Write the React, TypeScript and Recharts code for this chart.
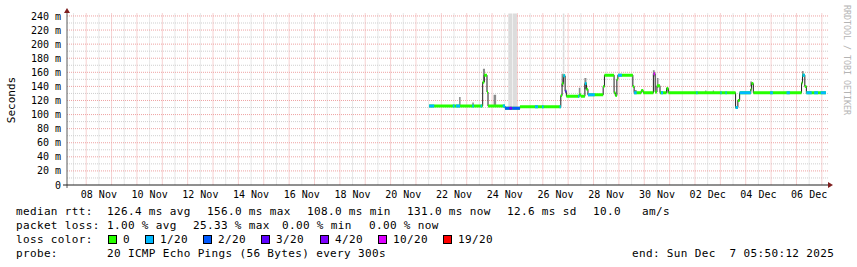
import React from 'react';
import { ComposedChart, Line, XAxis, YAxis, CartesianGrid, ReferenceArea } from 'recharts';

const FONT = '"DejaVu Sans Mono", monospace';

// time axis is "day of November" (1 Dec = 31), values in ms
const START = 7 + (5 * 60 + 50 + 12 / 60) / 1440; // Sun Nov 7 05:50:12 minus 30 days
const END = START + 30;

const LABEL_DAYS = [8, 10, 12, 14, 16, 18, 20, 22, 24, 26, 28, 30, 32, 34, 36];
const LABELS = ['08 Nov', '10 Nov', '12 Nov', '14 Nov', '16 Nov', '18 Nov', '20 Nov', '22 Nov', '24 Nov', '26 Nov', '28 Nov', '30 Nov', '02 Dec', '04 Dec', '06 Dec'];
const MAJOR_MS = [0, 20, 40, 60, 80, 100, 120, 140, 160, 180, 200, 220, 240];
const MINOR_MS = [10, 30, 50, 70, 90, 110, 130, 150, 170, 190, 210, 230];

// median rtt, step after: [day, ms]
const MEDIAN: [number, number][] = [
  [21.52, 112],
  [23.63, 146], [23.69, 156], [23.8, 132], [23.84, 112],
  [24.51, 109], [25.1, 111],
  [26.71, 127], [26.76, 144], [26.81, 155], [26.88, 133], [26.93, 126],
  [27.44, 128], [27.5, 126], [27.66, 144], [27.72, 136], [27.78, 128],
  [28.38, 140], [28.43, 156], [28.81, 131], [28.86, 127], [28.92, 150], [28.96, 156],
  [29.55, 140], [29.6, 131],
  [29.88, 134], [29.96, 131],
  [30.36, 158], [30.43, 132], [30.5, 141], [30.62, 131], [30.88, 137], [30.95, 131],
  [33.6, 110], [33.69, 120], [33.76, 131],
  [34.2, 136], [34.23, 144], [34.3, 131],
  [36.2, 145], [36.24, 156], [36.33, 140], [36.39, 131],
  [37.16, 131],
];

// periods with packet loss: [from, to, loss level index]
const LOSS: [number, number, number][] = [
  [21.52, 21.72, 1], [22.45, 22.52, 1], [22.58, 22.74, 1], [23.22, 23.28, 1], [23.55, 23.6, 1],
  [24.42, 24.51, 1], [24.51, 24.67, 2], [24.67, 24.8, 3], [24.72, 24.76, 4], [24.8, 25.1, 2],
  [25.69, 25.81, 1], [25.97, 26.03, 1], [26.66, 26.71, 1], [26.81, 26.88, 1], [26.88, 26.93, 3],
  [27.39, 27.44, 1], [27.66, 27.72, 1], [27.78, 28.05, 1], [28.96, 29.12, 1], [29.6, 29.7, 1],
  [30.36, 30.43, 5], [30.66, 30.74, 1], [32.05, 32.1, 1], [33.0, 33.05, 1], [33.2, 33.25, 1],
  [33.6, 33.69, 1], [33.76, 34.2, 1], [34.96, 35.07, 1], [35.61, 35.74, 1], [36.24, 36.33, 1],
  [36.39, 36.6, 1], [36.7, 36.85, 1], [36.95, 37.16, 1],
];

// smoke (ping spread): [from, to, low ms, high ms]
const SMOKE: [number, number, number, number][] = [
  [22.7, 22.76, 112, 125], [23.22, 23.28, 112, 117], [23.64, 23.72, 146, 165],
  [24.06, 24.16, 112, 128], [24.64, 24.8, 109, 250], [24.82, 24.98, 109, 250],
  [26.74, 26.81, 140, 158], [26.79, 26.85, 150, 250], [27.42, 27.48, 126, 138],
  [27.64, 27.72, 136, 152], [29.62, 29.7, 131, 135], [30.34, 30.41, 154, 163],
  [30.5, 30.56, 138, 152], [30.86, 30.92, 131, 138], [32.4, 32.45, 131, 134],
  [32.7, 32.75, 131, 134], [34.18, 34.25, 140, 147], [36.22, 36.28, 155, 162],
];

const RTT_STATS = ['median rtt:', '126.4 ms avg', '156.0 ms max', '108.0 ms min', '131.0 ms now', '12.6 ms sd', '10.0', 'am/s'];
const LOSS_STATS = ['packet loss:', '1.00 % avg', '25.33 % max', '0.00 % min', '0.00 % now'];
const LOSS_LEVELS = ['0', '1/20', '2/20', '3/20', '4/20', '10/20', '19/20'];
const LOSS_COLORS = ['#26ff00', '#00b8ff', '#0059ff', '#5e00ff', '#7e00ff', '#dd00ff', '#ff0000'];
const PROBE = ['probe:', '20 ICMP Echo Pings (56 Bytes) every 300s'];
const END_TEXT = 'end: Sun Dec  7 05:50:12 2025';

const medAt = (t: number) => {
  let v = MEDIAN[0][1];
  for (const [bt, bv] of MEDIAN) if (bt <= t + 1e-9) v = bv;
  return v;
};

const stepData = MEDIAN.map(([t, v]) => ({ t, v }));
const flatData = MEDIAN.slice(0, -1).flatMap(([t, v], i) => [
  { t, v },
  { t: MEDIAN[i + 1][0], v },
  { t: MEDIAN[i + 1][0], v: null as number | null },
]);
const lossData = (lvl: number) =>
  LOSS.filter((s) => s[2] === lvl).flatMap(([a, b]) => [
    { t: a, v: medAt(a) },
    { t: b, v: medAt(a) },
    { t: b, v: null as number | null },
  ]);

const midnights = Array.from({ length: 30 }, (_, i) => 8 + i);
const noons = Array.from({ length: 30 }, (_, i) => 7.5 + i);

const RTT_X = [16, 107, 207, 307, 407, 507, 593, 642];
const LOSS_X = [16, 107, 193, 282, 369];
const BOX_X = [108, 145, 203, 261, 320, 378, 443];

const txt = { fontFamily: FONT, fontSize: 11, fill: '#000', letterSpacing: 0.35, whiteSpace: 'pre' as const };

export default function App() {
  return (
    <div style={{ position: 'absolute', left: 0, top: 0, width: 857, height: 267, background: '#fff' }}>
      <ComposedChart width={857} height={267} margin={{ top: 13.5, right: 29, bottom: 62, left: 0 }}>
        <CartesianGrid horizontalValues={MINOR_MS} verticalValues={noons} stroke="#cfcfcf" strokeDasharray="1 1" />
        <CartesianGrid horizontalValues={MAJOR_MS.slice(1)} verticalValues={midnights} stroke="#eea3a3" strokeDasharray="1 1" />
        <XAxis
          type="number"
          dataKey="t"
          domain={[START, END]}
          allowDataOverflow
          ticks={LABEL_DAYS.map((d) => d + 0.5)}
          tickFormatter={(v: number) => LABELS[LABEL_DAYS.indexOf(Math.round(v - 0.5))]}
          axisLine={false}
          tickLine={false}
          tickSize={0}
          tickMargin={6}
          height={20}
          interval={0}
          tick={{ fontFamily: FONT, fontSize: 10, fill: '#000' }}
        />
        <YAxis
          type="number"
          domain={[0, 243.5]}
          allowDataOverflow
          ticks={MAJOR_MS}
          tickFormatter={(v: number) => (v === 0 ? '0' : `${v} m`)}
          axisLine={false}
          tickLine={false}
          tickSize={0}
          tickMargin={6}
          width={67}
          interval={0}
          tick={{ fontFamily: FONT, fontSize: 10, fill: '#000' }}
        />
        {SMOKE.map(([a, b, lo, hi], i) => (
          <ReferenceArea
            key={i}
            x1={a}
            x2={b}
            y1={lo}
            y2={hi}
            ifOverflow="hidden"
            fill={hi > 240 ? '#dcdcdc' : '#8a8a8a'}
            fillOpacity={1}
            stroke="none"
          />
        ))}
        <Line data={stepData} dataKey="v" type="stepAfter" stroke="#202020" strokeWidth={1} dot={false} activeDot={false} isAnimationActive={false} />
        <Line data={flatData} dataKey="v" type="linear" stroke={LOSS_COLORS[0]} strokeWidth={3} dot={false} activeDot={false} connectNulls={false} isAnimationActive={false} />
        {[1, 2, 3, 4, 5].map((lvl) => (
          <Line
            key={lvl}
            data={lossData(lvl)}
            dataKey="v"
            type="linear"
            stroke={LOSS_COLORS[lvl]}
            strokeWidth={3}
            dot={false}
            activeDot={false}
            connectNulls={false}
            isAnimationActive={false}
          />
        ))}
      </ComposedChart>
      <svg width={857} height={267} style={{ position: 'absolute', left: 0, top: 0, pointerEvents: 'none' }}>
        <line x1={67} y1={188} x2={67} y2={11} stroke="#5a5a5a" strokeWidth={1} />
        <polygon points="64,13 70,13 67,8" fill="#7f1f1f" />
        <line x1={63} y1={185} x2={829} y2={185} stroke="#202020" strokeWidth={1} />
        <polygon points="828,182 828,188 833,185" fill="#7f1f1f" />
        <text x={15} y={100} transform="rotate(-90 15 100)" textAnchor="middle" fontFamily={FONT} fontSize={11} fill="#000">
          Seconds
        </text>
        <text x={844} y={5} transform="rotate(90 844 5)" fontFamily={FONT} fontSize={8.3} fill="#b4b4b4">
          RRDTOOL / TOBI OETIKER
        </text>
        {RTT_STATS.map((s, i) => (
          <text key={i} x={RTT_X[i]} y={215} style={txt}>{s}</text>
        ))}
        {LOSS_STATS.map((s, i) => (
          <text key={i} x={LOSS_X[i]} y={229} style={txt}>{s}</text>
        ))}
        <text x={16} y={243} style={txt}>loss color:</text>
        {LOSS_LEVELS.map((s, i) => (
          <g key={i}>
            <rect x={BOX_X[i] + 0.5} y={235.5} width={8} height={8} fill={LOSS_COLORS[i]} stroke="#000" strokeWidth={1} />
            <text x={BOX_X[i] + 15} y={243} style={txt}>{s}</text>
          </g>
        ))}
        <text x={16} y={257} style={txt}>{PROBE[0]}</text>
        <text x={107} y={257} style={txt}>{PROBE[1]}</text>
        <text x={632} y={257} style={txt}>{END_TEXT}</text>
      </svg>
    </div>
  );
}
